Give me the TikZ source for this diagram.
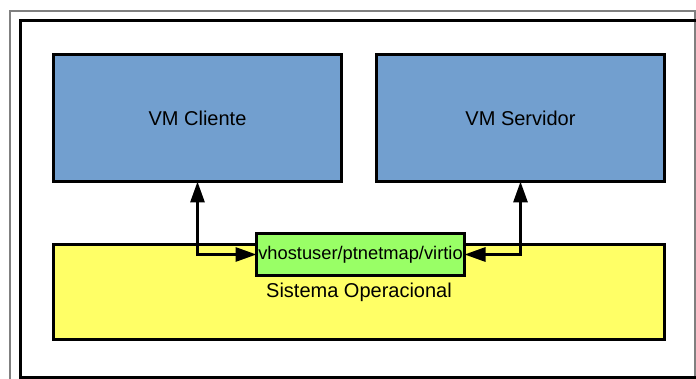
\documentclass[tikz,border=0pt]{standalone}
\usepackage{fontspec}
\setmainfont{Liberation Sans}
\usetikzlibrary{arrows.meta}
\definecolor{vmblue}{HTML}{729FCF}
\definecolor{soyellow}{HTML}{FFFF66}
\definecolor{virtgreen}{HTML}{99FF66}
\definecolor{framegray}{HTML}{808080}
\begin{document}
\begin{tikzpicture}[x=1pt,y=-1pt,
  box/.style={draw=black,line width=3pt,inner sep=0pt,outer sep=0pt,
    font=\fontsize{20}{24}\selectfont,text=black},
  vmbox/.style={box,fill=vmblue,minimum width=288pt,minimum height=127pt},
  conn/.style={line width=3pt,{Triangle[length=21pt,width=14pt]}-{Triangle[length=21pt,width=14pt]}}]
\useasboundingbox (0,0) rectangle (696,379);
\clip (0,0) rectangle (696,379);
\fill[white] (0,0) rectangle (696,379);
\draw[framegray,line width=1.5pt] (10,11) rectangle (695,400);
\draw[black,line width=3pt] (20,21) rectangle (720,377);
\node[box,fill=soyellow,minimum width=611pt,minimum height=95pt] (so) at (359,292) {Sistema Operacional};
\node[vmbox] (cliente) at (197.5,118) {VM Cliente};
\node[vmbox] (servidor) at (520.5,118) {VM Servidor};
\node[box,fill=virtgreen,minimum width=208pt,minimum height=42pt,
  font=\fontsize{18.3}{22}\selectfont] (virt) at (360.5,254.5) {vhostuser/ptnetmap/virtio};
\draw[conn] (virt.west) -| (cliente.south);
\draw[conn] (virt.east) -| (servidor.south);
\end{tikzpicture}
\end{document}
